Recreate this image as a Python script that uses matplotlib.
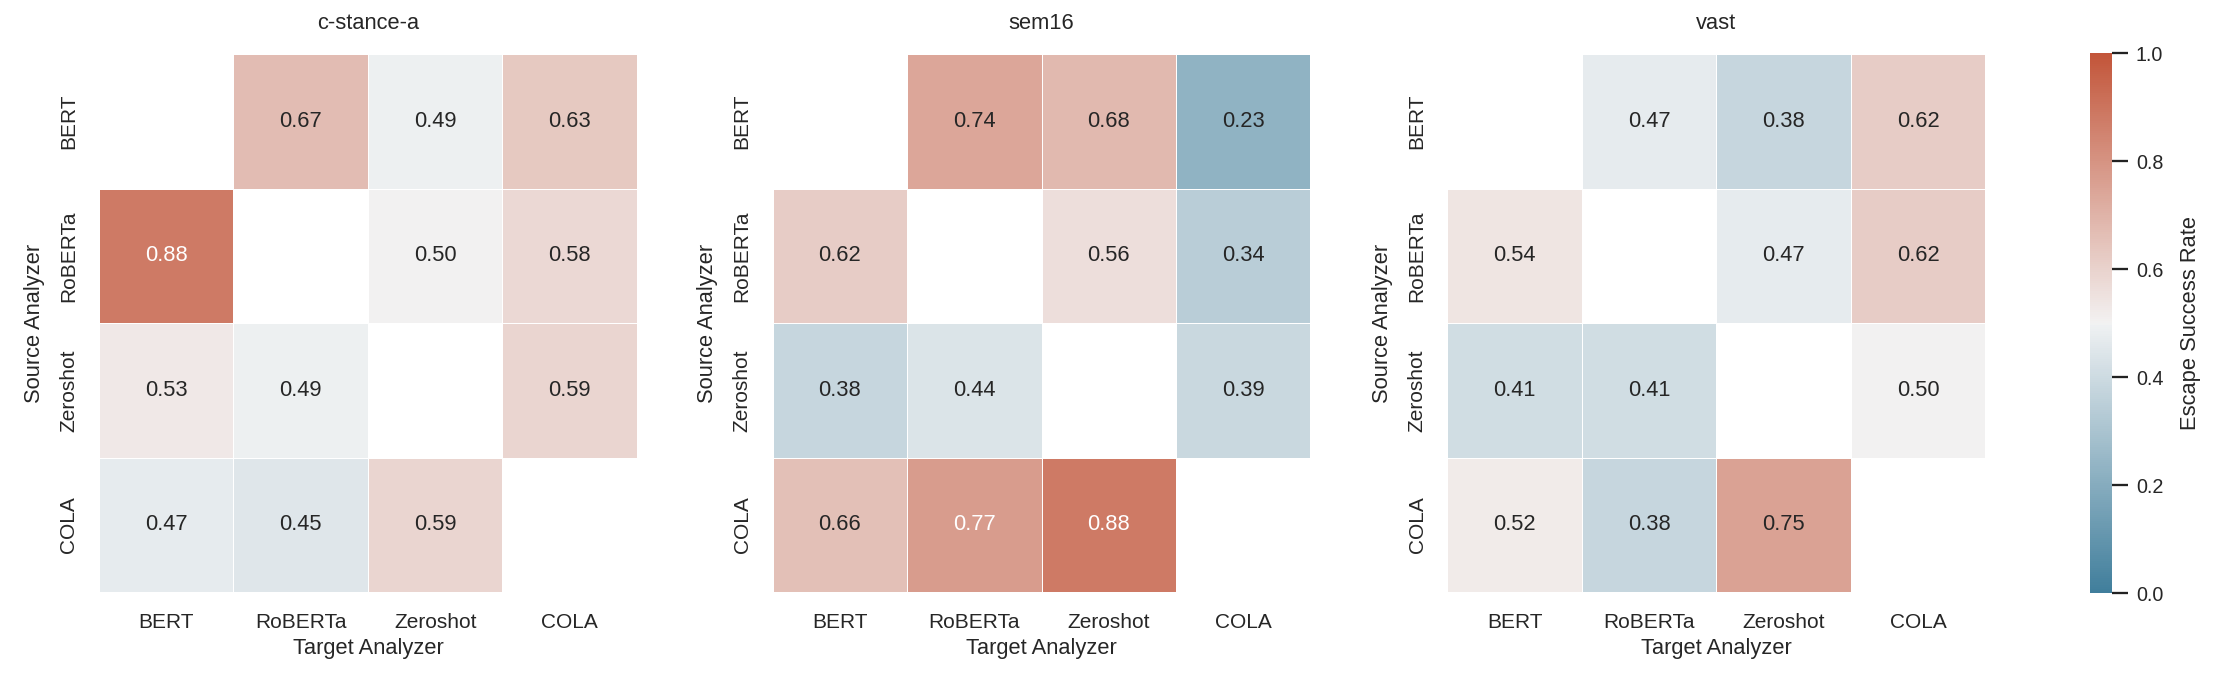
import matplotlib
matplotlib.use('Agg')
import matplotlib.pyplot as plt
import numpy as np
import seaborn as sns

sns.set_theme(style="white")
plt.rcParams['font.family'] = ['Liberation Sans', 'DejaVu Sans']

analyzers = ['BERT', 'RoBERTa', 'Zeroshot', 'COLA']
datasets = ['c-stance-a', 'sem16', 'vast']
nan = np.nan

# rows = source analyzer, cols = target analyzer
cstance = [[nan, 0.67, 0.49, 0.63],
           [0.88, nan, 0.50, 0.58],
           [0.53, 0.49, nan, 0.59],
           [0.47, 0.45, 0.59, nan]]
sem16 = [[nan, 0.74, 0.68, 0.23],
         [0.62, nan, 0.56, 0.34],
         [0.38, 0.44, nan, 0.39],
         [0.66, 0.77, 0.88, nan]]
vast = [[nan, 0.47, 0.38, 0.62],
        [0.54, nan, 0.47, 0.62],
        [0.41, 0.41, nan, 0.50],
        [0.52, 0.38, 0.75, nan]]
tables = [cstance, sem16, vast]

cmap = sns.diverging_palette(230, 20, as_cmap=True)

fig = plt.figure(figsize=(14.8, 691 / 150), dpi=150)
lefts = [0.0446, 0.348, 0.652]
w, b, h = 0.2423, 0.1418, 0.7814
cbar_ax = fig.add_axes([0.9414, b, 0.0099, h])

for i, (name, tab) in enumerate(zip(datasets, tables)):
    ax = fig.add_axes([lefts[i], b, w, h])
    arr = np.array(tab, dtype=float)
    mask = np.eye(4, dtype=bool)
    sns.heatmap(arr, mask=mask, cmap=cmap, vmin=0, vmax=1, center=0.5,
                annot=True, fmt='.2f', linewidths=0.4, linecolor='white',
                square=True, ax=ax, cbar=(i == 0), cbar_ax=cbar_ax if i == 0 else None,
                annot_kws={'size': 10.5},
                xticklabels=analyzers, yticklabels=analyzers)
    ax.set_title(name, fontsize=10.5, pad=12)
    ax.set_xlabel('Target Analyzer', fontsize=10.5, labelpad=3)
    ax.set_ylabel('Source Analyzer', fontsize=10.5, labelpad=7)
    ax.tick_params(axis='both', length=0, pad=10, labelsize=10)
    plt.setp(ax.get_yticklabels(), rotation=90, va='center')
    plt.setp(ax.get_xticklabels(), rotation=0)

cbar_ax.tick_params(length=7.5, width=1.1, color='#222222', labelsize=9.5, pad=4, right=True)
cbar_ax.set_yticks([0, 0.2, 0.4, 0.6, 0.8, 1.0])
cbar_ax.set_ylabel('Escape Success Rate', fontsize=10.5, labelpad=8)

fig.savefig('out.png', dpi=150)
